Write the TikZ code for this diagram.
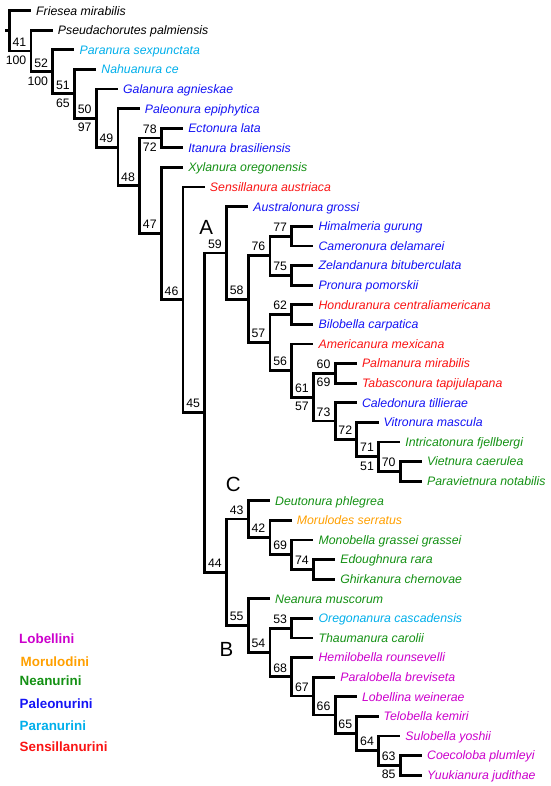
\documentclass[tikz,border=0pt]{standalone}
\usepackage{fontspec}
\setmainfont{Liberation Sans}
\usetikzlibrary{calc}
\definecolor{cLob}{RGB}{204,0,204}
\definecolor{cMor}{RGB}{255,160,0}
\definecolor{cNea}{RGB}{20,145,20}
\definecolor{cPal}{RGB}{20,20,245}
\definecolor{cPar}{RGB}{0,175,235}
\definecolor{cSen}{RGB}{250,20,20}
\begin{document}
\begin{tikzpicture}[x=1pt,y=-1pt,
  br/.style={line width=2.8pt, black},
  leaf/.style={anchor=west, inner xsep=5pt, inner ysep=0pt, text height=8.8pt, text depth=0pt, font=\fontsize{12.3}{14}\selectfont\itshape},
  labu/.style={anchor=south east, inner sep=0pt, text height=8.8pt, text depth=0pt, font=\fontsize{12.3}{14}\selectfont},
  labd/.style={anchor=north east, inner sep=0pt, text height=8.8pt, text depth=0pt, font=\fontsize{12.3}{14}\selectfont},
  clade/.style={inner sep=0pt, text height=14.7pt, text depth=0pt, font=\fontsize{20.5}{24}\selectfont},
  leg/.style={anchor=west, inner sep=0pt, text height=9.6pt, text depth=0pt, font=\fontsize{13.4}{16}\selectfont\bfseries}
]
\useasboundingbox (0,0) rectangle (550,786);
\fill[white] (0,0) rectangle (550,786);

% internal nodes
\coordinate (rs) at (5,30.9);
\coordinate (root) at (9.3,30.9);
\coordinate (n2) at (31.02,51.09);
\coordinate (n3) at (52.74,71.88);
\coordinate (n4) at (74.46,93.85);
\coordinate (n5) at (96.18,118.2);
\coordinate (n6) at (117.9,147.3);
\coordinate (n7) at (139.62,185.89);
\coordinate (nEI) at (161.34,138.1);
\coordinate (n8) at (161.34,233.68);
\coordinate (n9) at (183.06,299.85);
\coordinate (n10) at (204.78,412.6);
\coordinate (n11) at (226.5,252.9);
\coordinate (n12) at (248.22,299.11);
\coordinate (n76) at (269.94,255.7);
\coordinate (n77) at (291.66,236.1);
\coordinate (n75) at (291.66,275.3);
\coordinate (n13) at (269.94,342.52);
\coordinate (n62) at (291.66,314.5);
\coordinate (n14) at (291.66,370.55);
\coordinate (n15) at (313.38,397.19);
\coordinate (n60) at (335.1,373.3);
\coordinate (n16) at (335.1,421.08);
\coordinate (n17) at (356.82,439.45);
\coordinate (n18) at (378.54,456.6);
\coordinate (n19) at (400.26,471.3);
\coordinate (n20) at (226.5,572.33);
\coordinate (nC) at (248.22,519.08);
\coordinate (n42) at (269.94,537.45);
\coordinate (n69) at (291.66,554.6);
\coordinate (n74) at (313.38,569.3);
\coordinate (nB) at (248.22,625.58);
\coordinate (n54) at (269.94,652.45);
\coordinate (n53) at (291.66,628.1);
\coordinate (n68) at (291.66,676.8);
\coordinate (n67) at (313.38,696.09);
\coordinate (n66) at (335.1,715.08);
\coordinate (n65) at (356.82,733.45);
\coordinate (n64) at (378.54,750.6);
\coordinate (n63) at (400.26,765.3);

% leaves
\node[leaf] (l1) at (31.02,10.7) {Friesea mirabilis};
\node[leaf] (l2) at (52.74,30.3) {Pseudachorutes palmiensis};
\node[leaf,text=cPar] (l3) at (74.46,49.9) {Paranura sexpunctata};
\node[leaf,text=cPar] (l4) at (96.18,69.5) {Nahuanura ce};
\node[leaf,text=cPal] (l5) at (117.9,89.1) {Galanura agnieskae};
\node[leaf,text=cPal] (l6) at (139.62,108.7) {Paleonura epiphytica};
\node[leaf,text=cPal] (l7) at (183.06,128.3) {Ectonura lata};
\node[leaf,text=cPal] (l8) at (183.06,147.9) {Itanura brasiliensis};
\node[leaf,text=cNea] (l9) at (183.06,167.5) {Xylanura oregonensis};
\node[leaf,text=cSen] (l10) at (204.78,187.1) {Sensillanura austriaca};
\node[leaf,text=cPal] (l11) at (248.22,206.7) {Australonura grossi};
\node[leaf,text=cPal] (l12) at (313.38,226.3) {Himalmeria gurung};
\node[leaf,text=cPal] (l13) at (313.38,245.9) {Cameronura delamarei};
\node[leaf,text=cPal] (l14) at (313.38,265.5) {Zelandanura bituberculata};
\node[leaf,text=cPal] (l15) at (313.38,285.1) {Pronura pomorskii};
\node[leaf,text=cSen] (l16) at (313.38,304.7) {Honduranura centraliamericana};
\node[leaf,text=cPal] (l17) at (313.38,324.3) {Bilobella carpatica};
\node[leaf,text=cSen] (l18) at (313.38,343.9) {Americanura mexicana};
\node[leaf,text=cSen] (l19) at (356.82,363.5) {Palmanura mirabilis};
\node[leaf,text=cSen] (l20) at (356.82,383.1) {Tabasconura tapijulapana};
\node[leaf,text=cPal] (l21) at (356.82,402.7) {Caledonura tillierae};
\node[leaf,text=cPal] (l22) at (378.54,422.3) {Vitronura mascula};
\node[leaf,text=cNea] (l23) at (400.26,441.9) {Intricatonura fjellbergi};
\node[leaf,text=cNea] (l24) at (421.98,461.5) {Vietnura caerulea};
\node[leaf,text=cNea] (l25) at (421.98,481.1) {Paravietnura notabilis};
\node[leaf,text=cNea] (l26) at (269.94,500.7) {Deutonura phlegrea};
\node[leaf,text=cMor] (l27) at (291.66,520.3) {Morulodes serratus};
\node[leaf,text=cNea] (l28) at (313.38,539.9) {Monobella grassei grassei};
\node[leaf,text=cNea] (l29) at (335.1,559.5) {Edoughnura rara};
\node[leaf,text=cNea] (l30) at (335.1,579.1) {Ghirkanura chernovae};
\node[leaf,text=cNea] (l31) at (269.94,598.7) {Neanura muscorum};
\node[leaf,text=cPar] (l32) at (313.38,618.3) {Oregonanura cascadensis};
\node[leaf,text=cNea] (l33) at (313.38,637.9) {Thaumanura carolii};
\node[leaf,text=cLob] (l34) at (313.38,657.5) {Hemilobella rounsevelli};
\node[leaf,text=cLob] (l35) at (335.1,677.1) {Paralobella breviseta};
\node[leaf,text=cLob] (l36) at (356.82,696.7) {Lobellina weinerae};
\node[leaf,text=cLob] (l37) at (378.54,716.3) {Telobella kemiri};
\node[leaf,text=cLob] (l38) at (400.26,735.9) {Sulobella yoshii};
\node[leaf,text=cLob] (l39) at (421.98,755.5) {Coecoloba plumleyi};
\node[leaf,text=cLob] (l40) at (421.98,775.1) {Yuukianura judithae};

% branches
\draw[br] (rs) -- (root);
\draw[br] (root) |- (l1.west);  \draw[br] (root) |- (n2);
\draw[br] (n2) |- (l2.west);    \draw[br] (n2) |- (n3);
\draw[br] (n3) |- (l3.west);    \draw[br] (n3) |- (n4);
\draw[br] (n4) |- (l4.west);    \draw[br] (n4) |- (n5);
\draw[br] (n5) |- (l5.west);    \draw[br] (n5) |- (n6);
\draw[br] (n6) |- (l6.west);    \draw[br] (n6) |- (n7);
\draw[br] (n7) |- (nEI);        \draw[br] (n7) |- (n8);
\draw[br] (nEI) |- (l7.west);   \draw[br] (nEI) |- (l8.west);
\draw[br] (n8) |- (l9.west);    \draw[br] (n8) |- (n9);
\draw[br] (n9) |- (l10.west);   \draw[br] (n9) |- (n10);
\draw[br] (n10) |- (n11);       \draw[br] (n10) |- (n20);
\draw[br] (n11) |- (l11.west);  \draw[br] (n11) |- (n12);
\draw[br] (n12) |- (n76);       \draw[br] (n12) |- (n13);
\draw[br] (n76) |- (n77);       \draw[br] (n76) |- (n75);
\draw[br] (n77) |- (l12.west);  \draw[br] (n77) |- (l13.west);
\draw[br] (n75) |- (l14.west);  \draw[br] (n75) |- (l15.west);
\draw[br] (n13) |- (n62);       \draw[br] (n13) |- (n14);
\draw[br] (n62) |- (l16.west);  \draw[br] (n62) |- (l17.west);
\draw[br] (n14) |- (l18.west);  \draw[br] (n14) |- (n15);
\draw[br] (n15) |- (n60);       \draw[br] (n15) |- (n16);
\draw[br] (n60) |- (l19.west);  \draw[br] (n60) |- (l20.west);
\draw[br] (n16) |- (l21.west);  \draw[br] (n16) |- (n17);
\draw[br] (n17) |- (l22.west);  \draw[br] (n17) |- (n18);
\draw[br] (n18) |- (l23.west);  \draw[br] (n18) |- (n19);
\draw[br] (n19) |- (l24.west);  \draw[br] (n19) |- (l25.west);
\draw[br] (n20) |- (nC);        \draw[br] (n20) |- (nB);
\draw[br] (nC) |- (l26.west);   \draw[br] (nC) |- (n42);
\draw[br] (n42) |- (l27.west);  \draw[br] (n42) |- (n69);
\draw[br] (n69) |- (l28.west);  \draw[br] (n69) |- (n74);
\draw[br] (n74) |- (l29.west);  \draw[br] (n74) |- (l30.west);
\draw[br] (nB) |- (l31.west);   \draw[br] (nB) |- (n54);
\draw[br] (n54) |- (n53);       \draw[br] (n54) |- (n68);
\draw[br] (n53) |- (l32.west);  \draw[br] (n53) |- (l33.west);
\draw[br] (n68) |- (l34.west);  \draw[br] (n68) |- (n67);
\draw[br] (n67) |- (l35.west);  \draw[br] (n67) |- (n66);
\draw[br] (n66) |- (l36.west);  \draw[br] (n66) |- (n65);
\draw[br] (n65) |- (l37.west);  \draw[br] (n65) |- (n64);
\draw[br] (n64) |- (l38.west);  \draw[br] (n64) |- (n63);
\draw[br] (n63) |- (l39.west);  \draw[br] (n63) |- (l40.west);

% support values
\node[labu] (s41) at ($(n2)+(-4.5,-4.5)$) {41};
\node[labd] (s100a) at ($(n2)+(-4.5,4.5)$) {100};
\node[labu] (s52) at ($(n3)+(-4.5,-4.5)$) {52};
\node[labd] (s100b) at ($(n3)+(-4.5,4.5)$) {100};
\node[labu] (s51) at ($(n4)+(-4.5,-4.5)$) {51};
\node[labd] (s65) at ($(n4)+(-4.5,4.5)$) {65};
\node[labu] (s50) at ($(n5)+(-4.5,-4.5)$) {50};
\node[labd] (s97) at ($(n5)+(-4.5,4.5)$) {97};
\node[labu] (s49) at ($(n6)+(-4.5,-4.5)$) {49};
\node[labu] (s48) at ($(n7)+(-4.5,-4.5)$) {48};
\node[labu] (s78) at ($(nEI)+(-4.5,-4.5)$) {78};
\node[labd] (s72a) at ($(nEI)+(-4.5,4.5)$) {72};
\node[labu] (s47) at ($(n8)+(-4.5,-4.5)$) {47};
\node[labu] (s46) at ($(n9)+(-4.5,-4.5)$) {46};
\node[labu] (s45) at ($(n10)+(-4.5,-4.5)$) {45};
\node[labu] (s59) at ($(n11)+(-4.5,-4.5)$) {59};
\node[labu] (s58) at ($(n12)+(-4.5,-4.5)$) {58};
\node[labu] (s76) at ($(n76)+(-4.5,-4.5)$) {76};
\node[labu] (s77) at ($(n77)+(-4.5,-4.5)$) {77};
\node[labu] (s75) at ($(n75)+(-4.5,-4.5)$) {75};
\node[labu] (s57a) at ($(n13)+(-4.5,-4.5)$) {57};
\node[labu] (s62) at ($(n62)+(-4.5,-4.5)$) {62};
\node[labu] (s56) at ($(n14)+(-4.5,-4.5)$) {56};
\node[labu] (s61) at ($(n15)+(-4.5,-4.5)$) {61};
\node[labd] (s57b) at ($(n15)+(-4.5,4.5)$) {57};
\node[labu] (s60) at ($(n60)+(-4.5,-4.5)$) {60};
\node[labd] (s69a) at ($(n60)+(-4.5,4.5)$) {69};
\node[labu] (s73) at ($(n16)+(-4.5,-4.5)$) {73};
\node[labu] (s72b) at ($(n17)+(-4.5,-4.5)$) {72};
\node[labu] (s71) at ($(n18)+(-4.5,-4.5)$) {71};
\node[labd] (s51b) at ($(n18)+(-4.5,4.5)$) {51};
\node[labu] (s70) at ($(n19)+(-4.5,-4.5)$) {70};
\node[labu] (s44) at ($(n20)+(-4.5,-4.5)$) {44};
\node[labu] (s43) at ($(nC)+(-4.5,-4.5)$) {43};
\node[labu] (s42) at ($(n42)+(-4.5,-4.5)$) {42};
\node[labu] (s69b) at ($(n69)+(-4.5,-4.5)$) {69};
\node[labu] (s74) at ($(n74)+(-4.5,-4.5)$) {74};
\node[labu] (s55) at ($(nB)+(-4.5,-4.5)$) {55};
\node[labu] (s54) at ($(n54)+(-4.5,-4.5)$) {54};
\node[labu] (s53) at ($(n53)+(-4.5,-4.5)$) {53};
\node[labu] (s68) at ($(n68)+(-4.5,-4.5)$) {68};
\node[labu] (s67) at ($(n67)+(-4.5,-4.5)$) {67};
\node[labu] (s66) at ($(n66)+(-4.5,-4.5)$) {66};
\node[labu] (s65b) at ($(n65)+(-4.5,-4.5)$) {65};
\node[labu] (s64) at ($(n64)+(-4.5,-4.5)$) {64};
\node[labu] (s63) at ($(n63)+(-4.5,-4.5)$) {63};
\node[labd] (s85) at ($(n63)+(-4.5,4.5)$) {85};

% clade letters
\node[clade] (cA) at (206.3,227.5) {A};
\node[clade] (cC) at (233.3,484.5) {C};
\node[clade] (cB) at (226.5,649) {B};

% legend
\node[leg,text=cLob] (g1) at (19,639) {Lobellini};
\node[leg,text=cMor] (g2) at (20.5,661.7) {Morulodini};
\node[leg,text=cNea] (g3) at (19.5,681) {Neanurini};
\node[leg,text=cPal] (g4) at (19.5,704) {Paleonurini};
\node[leg,text=cPar] (g5) at (19.5,726) {Paranurini};
\node[leg,text=cSen] (g6) at (19.5,746.7) {Sensillanurini};
\end{tikzpicture}
\end{document}
